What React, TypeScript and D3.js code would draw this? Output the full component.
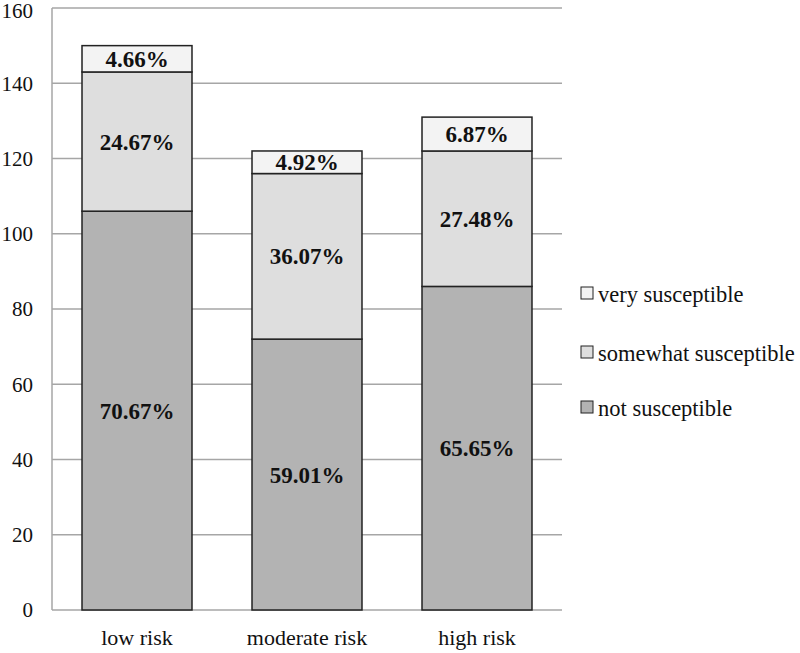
import React from "react";
import * as d3 from "d3";

const categories = ["low risk", "moderate risk", "high risk"];
const seriesNames = ["not susceptible", "somewhat susceptible", "very susceptible"];
const notSusceptible = [106, 72, 86];
const somewhatSusceptible = [37, 44, 36];
const verySusceptible = [7, 6, 9];
const notLabels = ["70.67%", "59.01%", "65.65%"];
const somewhatLabels = ["24.67%", "36.07%", "27.48%"];
const veryLabels = ["4.66%", "4.92%", "6.87%"];
const yTicks = [0, 20, 40, 60, 80, 100, 120, 140, 160];

const colors = ["#b3b3b3", "#dedede", "#f3f3f3"];
const font = "Liberation Serif";

export default function App() {
  const W = 800, H = 653;
  const left = 52, right = 562, top = 8, bottom = 610;
  const x = d3.scaleBand<string>().domain(categories).range([left, right]).paddingInner(0.353).paddingOuter(0.1765);
  const y = d3.scaleLinear().domain([0, 160]).range([bottom, top]);

  const rows = categories.map((c, i) => ({
    cat: c,
    "not susceptible": notSusceptible[i],
    "somewhat susceptible": somewhatSusceptible[i],
    "very susceptible": verySusceptible[i],
  }));
  const stack = d3.stack<any>().keys(seriesNames)(rows);
  const labels = [notLabels, somewhatLabels, veryLabels];

  const legendY = [408, 353, 294];

  return (
    <svg width={W} height={H} style={{ position: "absolute", left: 0, top: 0, background: "#fff" }}>
      {yTicks.map((t) => (
        <g key={t}>
          <line x1={left} x2={right} y1={y(t)} y2={y(t)} stroke="#a6a6a6" strokeWidth={1.5} />
          <text x={33} y={y(t) + (t === 160 ? 3 : 0)} dy="0.35em" textAnchor="end" fontFamily={font} fontSize={21} fill="#111">{t}</text>
        </g>
      ))}
      <line x1={left} x2={left} y1={top} y2={bottom} stroke="#a6a6a6" strokeWidth={1.5} />
      {stack.map((s, si) => (
        <g key={si}>
          {s.map((d, i) => (
            <g key={i}>
              <rect x={x(categories[i])!} width={x.bandwidth()} y={y(d[1])} height={y(d[0]) - y(d[1])}
                fill={colors[si]} stroke="#222" strokeWidth={1.5} />
              <text x={x(categories[i])! + x.bandwidth() / 2} y={(y(d[0]) + y(d[1])) / 2} dy="0.35em"
                textAnchor="middle" fontFamily={font} fontWeight="bold" fontSize={23} fill="#111">{labels[si][i]}</text>
            </g>
          ))}
        </g>
      ))}
      {categories.map((c) => (
        <text key={c} x={x(c)! + x.bandwidth() / 2} y={645} textAnchor="middle" fontFamily={font} fontSize={22} fill="#111">{c}</text>
      ))}
      {seriesNames.map((n, i) => (
        <g key={n}>
          <rect x={581} y={legendY[i] - 7} width={12} height={12} fill={colors[i]} stroke="#222" strokeWidth={1} />
          <text x={598} y={legendY[i]} dy="0.35em" fontFamily={font} fontSize={22.5} fill="#111">{n}</text>
        </g>
      ))}
    </svg>
  );
}
